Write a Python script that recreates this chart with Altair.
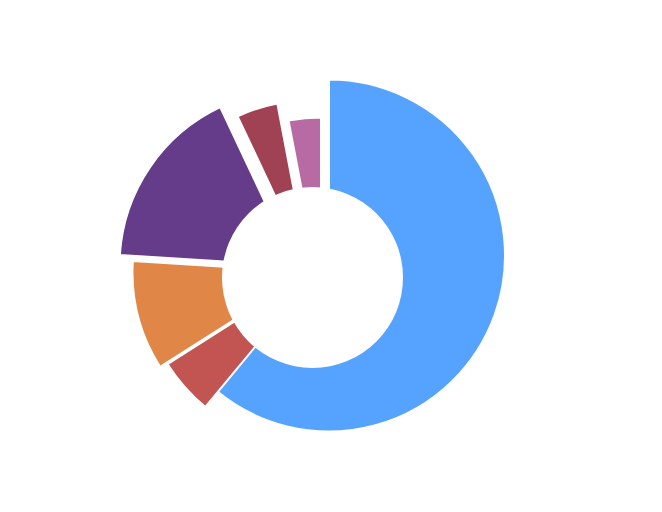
import altair as alt
import pandas as pd

# ---- data ----
categories = ["A", "B", "C", "D", "E", "F"]
values = [61, 5, 10, 17, 4, 3]

# ---- style (layout of each exploded slice, not data) ----
colors = ["#56A3FF", "#C25452", "#E08646", "#643C89", "#A04154", "#B76AA4"]
center = (304.5, 269.5)
# (dx, dy, outer radius) of each slice's apex relative to the centre
slice_style = {
    "A": (16.5, -22.0, 176),
    "B": (9.5, -11.5, 183),
    "C": (-3.0, -5.5, 177),
    "D": (-17.5, -11.5, 175.5),
    "E": (-4.0, -10.5, 166.5),
    "F": (8.5, 13.0, 173),
}
hole_radius = 90.5

df = pd.DataFrame({"cat": categories, "value": values, "order": list(range(len(values)))})
total = float(sum(values))

theta_scale = alt.Scale(domain=[0, total], range=[0, 6.283185307179586])
color_scale = alt.Scale(domain=categories, range=colors)

base = (
    alt.Chart(df)
    .transform_window(cum="sum(value)", sort=[alt.SortField("order")])
    .transform_calculate(start="datum.cum - datum.value")
)

layers = []
for cat in categories:
    dx, dy, r = slice_style[cat]
    layers.append(
        base.transform_filter(alt.datum.cat == cat)
        .mark_arc(
            x=center[0] + dx,
            y=center[1] + dy,
            outerRadius=r,
            innerRadius=0,
            stroke="white",
            strokeWidth=2,
        )
        .encode(
            theta=alt.Theta("start:Q", scale=theta_scale, stack=False),
            theta2="cum:Q",
            color=alt.Color("cat:N", scale=color_scale, legend=None),
        )
    )

hole = (
    alt.Chart(pd.DataFrame({"h": [0]}))
    .mark_arc(x=center[0], y=center[1], outerRadius=hole_radius, innerRadius=0, color="white")
    .encode(theta=alt.value(0), theta2=alt.value(6.2832))
)

chart = (
    alt.layer(*layers, hole)
    .properties(width=646, height=496, padding=0)
    .configure_view(stroke=None)
)

chart.save("out.html", embed_options={"renderer": "svg", "actions": False})
